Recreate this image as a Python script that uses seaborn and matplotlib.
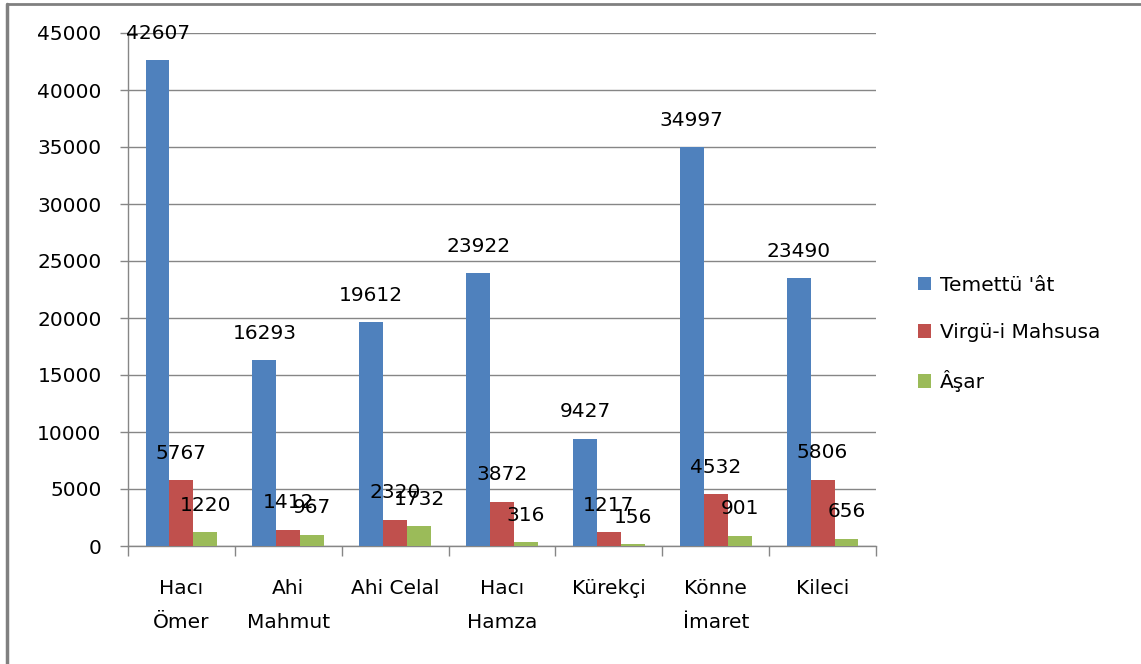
# -*- coding: utf-8 -*-
import pandas as pd
import matplotlib
matplotlib.use("Agg")
import matplotlib.pyplot as plt
from matplotlib.lines import Line2D
import seaborn as sns

# data
mahalle = ["Hacı\nÖmer", "Ahi\nMahmut", "Ahi Celal", "Hacı\nHamza", "Kürekçi", "Könne\nİmaret", "Kileci"]
series = ["Temettü 'ât", "Virgü-i Mahsusa", "Âşar"]
temettuat = [42607, 16293, 19612, 23922, 9427, 34997, 23490]
virgu = [5767, 1412, 2320, 3872, 1217, 4532, 5806]
asar = [1220, 967, 1732, 316, 156, 901, 656]
colors = ["#4F81BD", "#C0504D", "#9BBB59"]

# long-form table for seaborn
df = pd.DataFrame({
    "Mahalle": mahalle * 3,
    "Seri": [series[0]] * 7 + [series[1]] * 7 + [series[2]] * 7,
    "Değer": temettuat + virgu + asar,
})

sns.set_style("white")
plt.rcParams["font.family"] = ["DejaVu Sans"]
plt.rcParams["text.color"] = "black"
grid_col = "#868686"
fs = 14.5

fig = plt.figure(figsize=(11.41, 6.64), dpi=100)
ax = fig.add_axes([128 / 1141, 1 - 546 / 664, (876 - 128) / 1141, (546 - 33) / 664])

sns.barplot(data=df, x="Mahalle", y="Değer", hue="Seri", palette=colors,
            order=mahalle, hue_order=series, width=0.67, gap=0,
            saturation=1, linewidth=0, ax=ax, zorder=3)

# y axis
ax.set_ylim(0, 45000)
ax.set_yticks(range(0, 45001, 5000))
ax.yaxis.grid(True, color=grid_col, linewidth=1)
ax.set_axisbelow(True)
ax.tick_params(axis="y", length=6, width=1, color=grid_col, labelsize=fs, pad=13,
               left=True, labelcolor="black")

# x axis: ticks on category boundaries, labels in the middle
ax.set_xlim(-0.5, len(mahalle) - 0.5)
ax.set_xticks([i - 0.5 for i in range(len(mahalle) + 1)])
ax.set_xticklabels([])
ax.set_xticks(range(len(mahalle)), minor=True)
ax.set_xticklabels(mahalle, minor=True, fontsize=fs, linespacing=1.95)
ax.tick_params(axis="x", which="major", length=7, width=1, color=grid_col, bottom=True)
ax.tick_params(axis="x", which="minor", length=0, pad=24, labelcolor="black")
ax.set_xlabel("")
ax.set_ylabel("")

for side in ["top", "right"]:
    ax.spines[side].set_visible(False)
for side in ["left", "bottom"]:
    ax.spines[side].set_color(grid_col)
    ax.spines[side].set_linewidth(1)

# value labels above bars
for cont, vals in zip(ax.containers, [temettuat, virgu, asar]):
    for bar, v in zip(cont, vals):
        ax.annotate(str(v), (bar.get_x() + bar.get_width() / 2, bar.get_height()),
                    xytext=(0, 27), textcoords="offset pixels",
                    ha="center", va="center", fontsize=fs, color="black", zorder=5)

# legend
handles, labels = ax.get_legend_handles_labels()
ax.legend(handles, labels, loc="center left", bbox_to_anchor=(918 / 1141, 1 - 334 / 664),
          bbox_transform=fig.transFigure, frameon=False, fontsize=fs,
          handlelength=0.65, handleheight=0.65, handletextpad=0.45,
          labelspacing=1.4, borderpad=0, borderaxespad=0)

# outer frame (only top and left visible in the crop)
fig.add_artist(Line2D([6.5 / 1141, 1], [1 - 4 / 664, 1 - 4 / 664], transform=fig.transFigure,
                      color="#808080", linewidth=2))
fig.add_artist(Line2D([6.5 / 1141, 6.5 / 1141], [0, 1 - 4 / 664], transform=fig.transFigure,
                      color="#808080", linewidth=2.5))

fig.savefig("out.png", dpi=100)
